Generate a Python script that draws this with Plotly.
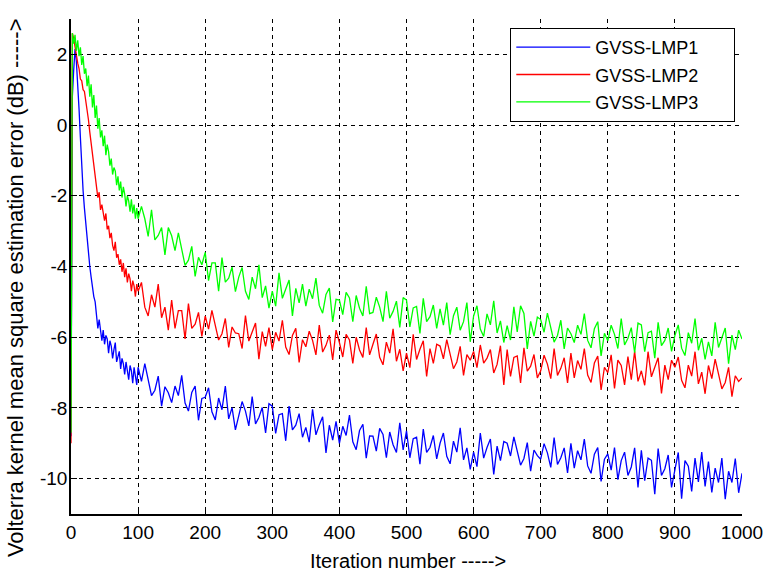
import plotly.graph_objects as go

# Iteration indices: dense (step 2) for the fast initial drop, step 5 afterwards
iter_early = list(range(0, 100, 2))
iter_late = list(range(100, 1001, 5))
iterations = iter_early + iter_late

series_names = ["GVSS-LMP1", "GVSS-LMP2", "GVSS-LMP3"]
series_colors = ["#0000FF", "#FF0000", "#00FF00"]

# GVSS-LMP1 (blue), dB
lmp1_early = [-8.80, 0.80, 1.55, 2.15, 1.80, 1.20, 0.45, -0.35, -1.20, -1.85,
              -2.35, -2.80, -3.30, -3.60, -4.00, -4.30, -4.60, -4.85, -5.00, -5.45,
              -5.75, -5.50, -5.85, -6.10, -5.80, -6.20, -5.95, -6.05, -6.45, -6.10,
              -6.25, -6.60, -6.35, -6.15, -6.70, -6.55, -6.40, -6.90, -6.60, -6.75,
              -7.05, -6.70, -6.95, -7.20, -6.80, -6.95, -7.30, -6.85, -7.10, -7.35]
lmp1_late = [-6.85, -7.25, -6.75, -7.20, -7.65, -7.50, -7.10, -7.95, -7.40, -7.57,
             -7.85, -7.38, -7.65, -7.08, -7.86, -8.09, -7.56, -7.38, -8.35, -7.73,
             -7.70, -7.43, -8.11, -8.34, -7.72, -8.05, -7.38, -8.31, -7.99, -8.62,
             -8.25, -7.82, -8.09, -8.51, -7.68, -8.45, -8.27, -7.99, -8.71, -7.88,
             -7.95, -8.72, -8.19, -8.16, -8.93, -7.95, -8.62, -8.49, -8.16, -8.83,
             -8.55, -8.97, -8.04, -8.76, -8.48, -8.25, -9.27, -8.49, -8.91, -8.38,
             -9.00, -8.52, -8.78, -8.20, -8.96, -9.18, -8.64, -8.46, -9.42, -8.79,
             -8.80, -9.22, -8.58, -8.75, -9.41, -8.68, -9.04, -9.26, -8.42, -9.19,
             -8.65, -9.41, -8.87, -8.83, -9.59, -8.60, -9.26, -9.12, -8.78, -9.44,
             -9.00, -8.71, -9.37, -9.58, -8.94, -9.25, -8.56, -9.47, -9.13, -9.74,
             -9.25, -9.66, -8.71, -9.42, -9.12, -8.88, -9.88, -9.08, -9.49, -8.95,
             -9.00, -9.36, -8.82, -9.23, -9.62, -9.43, -8.98, -9.79, -9.19, -9.35,
             -9.45, -9.01, -9.27, -9.68, -8.84, -9.60, -9.41, -9.13, -9.84, -9.00,
             -9.70, -9.21, -9.47, -8.88, -9.64, -9.85, -9.31, -9.12, -10.08, -9.45,
             -9.30, -9.76, -9.12, -10.03, -9.49, -9.25, -9.91, -9.67, -9.13, -10.25,
             -9.20, -10.06, -9.42, -9.48, -10.44, -9.15, -9.91, -9.72, -9.33, -10.25,
             -9.80, -9.26, -10.57, -9.49, -9.65, -10.36, -9.42, -10.09, -9.25, -10.22,
             -9.52, -10.39, -9.70, -10.11, -9.42, -10.58, -9.79, -10.11, -9.43, -10.40,
             -9.85]

# GVSS-LMP2 (red), dB
lmp2_early = [-9.00, 2.60, 2.45, 2.20, 2.05, 1.75, 1.60, 1.30, 1.25, 1.00,
              0.95, 0.70, 0.50, 0.15, -0.20, -0.50, -0.80, -1.10, -1.45, -1.70,
              -2.05, -1.90, -2.40, -2.25, -2.55, -2.70, -2.50, -2.95, -2.85, -3.20,
              -3.05, -3.40, -3.55, -3.30, -3.75, -3.65, -3.95, -3.80, -4.15, -3.90,
              -4.30, -4.05, -4.45, -4.20, -4.35, -4.70, -4.40, -4.55, -4.85, -4.50]
lmp2_late = [-4.70, -4.45, -5.15, -5.40, -4.80, -5.15, -4.50, -5.45, -5.15, -5.80,
             -4.95, -5.75, -5.25, -5.25, -6.05, -5.05, -5.75, -5.63, -5.30, -5.98,
             -5.40, -5.77, -5.24, -5.66, -6.08, -5.90, -5.47, -6.29, -5.71, -5.88,
             -5.90, -6.32, -5.39, -6.11, -5.83, -5.60, -6.62, -5.84, -6.26, -5.73,
             -6.35, -5.86, -6.11, -5.52, -6.28, -6.49, -5.95, -5.75, -6.71, -6.07,
             -6.27, -5.83, -6.09, -6.50, -5.66, -6.42, -6.23, -5.94, -6.64, -5.80,
             -6.15, -6.56, -5.92, -6.08, -6.74, -6.00, -6.36, -6.57, -5.73, -6.50,
             -6.20, -5.91, -6.57, -6.78, -6.14, -6.45, -5.76, -6.68, -6.34, -6.95,
             -6.45, -6.86, -5.92, -6.63, -6.34, -6.10, -7.11, -6.32, -6.74, -6.20,
             -6.25, -6.61, -6.07, -6.48, -6.89, -6.70, -6.26, -7.08, -6.49, -6.65,
             -6.40, -6.86, -6.22, -6.73, -6.59, -6.35, -7.01, -6.77, -6.24, -7.35,
             -6.35, -7.11, -6.57, -6.53, -7.29, -6.30, -6.96, -6.82, -6.49, -7.15,
             -6.95, -6.51, -6.76, -7.17, -6.32, -7.08, -6.88, -6.58, -7.29, -6.45,
             -7.15, -6.66, -6.91, -6.32, -7.07, -7.28, -6.73, -6.53, -7.49, -6.85,
             -7.00, -6.50, -7.45, -6.65, -6.80, -7.35, -6.55, -7.20, -6.40, -7.25,
             -6.95, -7.36, -6.41, -7.12, -6.82, -6.58, -7.59, -6.79, -7.20, -6.65,
             -6.85, -6.56, -7.22, -7.43, -6.79, -7.10, -6.41, -7.32, -6.99, -7.60,
             -6.80, -7.17, -6.62, -7.04, -7.46, -7.28, -6.85, -7.68, -7.09, -7.25,
             -7.15]

# GVSS-LMP3 (green), dB
lmp3_early = [-8.70, 2.60, 2.30, 2.55, 2.10, 2.40, 1.95, 2.20, 1.70, 1.95,
              1.45, 1.60, 1.10, 1.40, 0.80, 1.15, 0.50, 0.85, 0.20, 0.55,
              -0.10, 0.20, -0.35, -0.15, -0.60, -0.30, -0.85, -0.55, -0.75, -1.15,
              -0.95, -1.40, -1.20, -1.30, -1.70, -1.45, -1.85, -1.60, -2.05, -1.75,
              -1.95, -2.30, -2.00, -2.15, -2.45, -2.10, -2.50, -2.25, -2.65, -2.35]
lmp3_late = [-2.65, -2.30, -2.65, -3.15, -2.40, -3.25, -3.12, -2.90, -3.67, -2.90,
             -3.13, -3.55, -3.05, -3.51, -3.97, -3.82, -3.43, -4.28, -3.74, -3.95,
             -3.60, -4.40, -3.90, -3.90, -4.70, -3.75, -4.44, -4.33, -4.02, -4.71,
             -4.30, -4.03, -4.70, -4.93, -4.30, -4.63, -3.95, -4.88, -4.55, -5.18,
             -4.70, -5.12, -4.18, -4.90, -4.62, -4.38, -5.40, -4.62, -5.03, -4.50,
             -5.12, -4.64, -4.91, -4.33, -5.10, -5.32, -4.79, -4.61, -5.57, -4.93,
             -4.95, -5.36, -4.73, -4.89, -5.56, -4.82, -5.18, -5.40, -4.56, -5.33,
             -5.30, -4.87, -5.15, -5.56, -4.70, -5.46, -5.27, -4.98, -5.72, -4.88,
             -4.95, -5.71, -5.17, -5.13, -5.89, -4.90, -5.56, -5.42, -5.09, -5.75,
             -5.20, -5.66, -5.02, -5.93, -5.39, -5.15, -5.80, -5.56, -5.02, -6.13,
             -5.40, -5.11, -5.77, -5.98, -5.34, -5.65, -4.97, -5.88, -5.54, -6.15,
             -5.67, -6.08, -5.14, -5.85, -5.11, -5.33, -6.33, -5.55, -5.97, -5.43,
             -5.50, -5.86, -5.32, -5.73, -6.14, -5.95, -5.52, -6.33, -5.74, -5.90,
             -6.15, -5.66, -5.92, -5.33, -6.09, -6.30, -5.76, -5.56, -6.53, -5.89,
             -6.10, -5.66, -5.92, -6.32, -5.47, -6.22, -6.03, -5.73, -6.44, -5.60,
             -5.65, -6.41, -5.87, -5.83, -6.59, -5.58, -6.24, -6.09, -5.74, -6.40,
             -5.95, -5.65, -6.31, -6.52, -5.87, -6.17, -5.47, -6.37, -6.03, -6.63,
             -6.13, -6.53, -5.58, -6.29, -5.99, -5.74, -6.75, -5.94, -6.35, -5.80,
             -6.05]

x_ticks = [0, 100, 200, 300, 400, 500, 600, 700, 800, 900, 1000]
y_ticks = [-10, -8, -6, -4, -2, 0, 2]
y_tick_text = ["-10", "-8", "-6", "-4", "-2", "0", "2"]
x_title = "Iteration number ----->"
y_title = "Volterra kernel mean square estimation error (dB) ----->"

series_values = [lmp1_early + lmp1_late, lmp2_early + lmp2_late, lmp3_early + lmp3_late]

FONT = "Arial, 'Liberation Sans', sans-serif"
LEGEND_PAD = "\u00a0" * 6  # trailing non-breaking spaces widen the legend box

fig = go.Figure()
for i, (name, color, vals) in enumerate(zip(series_names, series_colors, series_values)):
    fig.add_trace(go.Scatter(
        x=iterations, y=vals, mode="lines", name=name + LEGEND_PAD,
        line=dict(color=color, width=1.3),
        legendgroup=f"g{i}",
    ))

axis_common = dict(
    showline=True, linecolor="black", linewidth=1.6, mirror=False,
    showgrid=True, gridcolor="black", gridwidth=1, griddash="4px,4px",
    zeroline=False, automargin=False,
    ticks="inside", ticklen=6, tickcolor="black", tickwidth=1,
    tickfont=dict(family=FONT, size=19, color="black"),
)

fig.update_xaxes(range=[0, 1000], tickvals=x_ticks, ticklabelstandoff=0, **axis_common)
fig.update_yaxes(range=[-11, 3], tickvals=y_ticks, ticktext=y_tick_text,
                 ticklabelstandoff=-2, **axis_common)

fig.update_layout(
    width=764, height=573,
    margin=dict(l=71, r=22, t=19, b=59, autoexpand=False),
    paper_bgcolor="white", plot_bgcolor="white",
    font=dict(family=FONT, color="black"),
    showlegend=True,
    legend=dict(
        x=0.99, y=0.982, xanchor="right", yanchor="top",
        bgcolor="white", bordercolor="black", borderwidth=1,
        font=dict(family=FONT, size=18, color="black"),
        itemwidth=74, tracegroupgap=1,
    ),
    annotations=[
        dict(text=x_title, xref="paper", yref="paper", x=0.502, y=-0.095,
             xanchor="center", yanchor="middle", showarrow=False,
             font=dict(family=FONT, size=20, color="black")),
        dict(text=y_title, xref="paper", yref="paper", x=-0.083, y=0.457,
             xanchor="center", yanchor="middle", showarrow=False, textangle=-90,
             font=dict(family=FONT, size=22, color="black")),
    ],
)

fig.write_html("out.html")
